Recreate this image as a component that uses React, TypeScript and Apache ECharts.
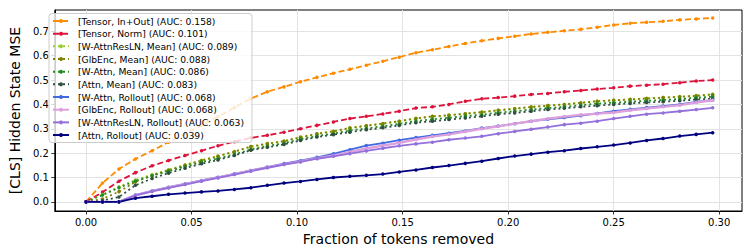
import React, { useEffect, useRef } from "react";
import * as echarts from "echarts";

const fractions = [
  0, 0.0078, 0.0156, 0.0234, 0.0313, 0.0391, 0.0469, 0.0547, 0.0625, 0.0703,
  0.0781, 0.0859, 0.0938, 0.1016, 0.1094, 0.1172, 0.125, 0.1328, 0.1406, 0.1484,
  0.1563, 0.1641, 0.1719, 0.1797, 0.1875, 0.1953, 0.2031, 0.2109, 0.2188, 0.2266,
  0.2344, 0.2422, 0.25, 0.2578, 0.2656, 0.2734, 0.2813, 0.2891, 0.2969,
];

const tensorInOut = [
  0, 0.077, 0.135, 0.176, 0.21, 0.245, 0.28, 0.315, 0.35, 0.387, 0.424, 0.452,
  0.472, 0.493, 0.511, 0.528, 0.544, 0.561, 0.577, 0.594, 0.612, 0.624, 0.638,
  0.65, 0.661, 0.671, 0.68, 0.689, 0.696, 0.702, 0.708, 0.717, 0.726, 0.733,
  0.737, 0.741, 0.747, 0.751, 0.755,
];
const tensorNorm = [
  0, 0.04, 0.085, 0.12, 0.148, 0.17, 0.19, 0.21, 0.23, 0.247, 0.263, 0.273,
  0.286, 0.3, 0.314, 0.328, 0.342, 0.351, 0.361, 0.372, 0.385, 0.39, 0.4,
  0.413, 0.423, 0.428, 0.434, 0.441, 0.445, 0.452, 0.457, 0.463, 0.468, 0.475,
  0.479, 0.483, 0.489, 0.496, 0.5,
];
const wAttnResLNMean = [
  0, 0.03, 0.062, 0.09, 0.112, 0.132, 0.152, 0.171, 0.188, 0.207, 0.226, 0.238,
  0.25, 0.266, 0.28, 0.29, 0.304, 0.313, 0.322, 0.331, 0.343, 0.35, 0.356,
  0.362, 0.369, 0.376, 0.383, 0.39, 0.395, 0.4, 0.407, 0.413, 0.417, 0.421,
  0.425, 0.428, 0.432, 0.436, 0.442,
];
const glbEncMean = [
  0, 0.012, 0.042, 0.082, 0.108, 0.13, 0.15, 0.169, 0.187, 0.206, 0.227, 0.239,
  0.249, 0.265, 0.279, 0.289, 0.303, 0.312, 0.321, 0.331, 0.342, 0.351, 0.355,
  0.362, 0.368, 0.376, 0.382, 0.389, 0.395, 0.4, 0.406, 0.413, 0.417, 0.42,
  0.424, 0.428, 0.431, 0.435, 0.441,
];
const wAttnMean = [
  0, 0.028, 0.058, 0.086, 0.107, 0.126, 0.145, 0.163, 0.178, 0.195, 0.215,
  0.229, 0.241, 0.257, 0.27, 0.28, 0.293, 0.302, 0.31, 0.32, 0.332, 0.339,
  0.345, 0.352, 0.358, 0.366, 0.372, 0.379, 0.385, 0.39, 0.397, 0.403, 0.407,
  0.411, 0.415, 0.418, 0.422, 0.427, 0.432,
];
const attnMean = [
  0, 0.005, 0.02, 0.068, 0.096, 0.118, 0.138, 0.156, 0.172, 0.19, 0.212, 0.224,
  0.236, 0.252, 0.266, 0.276, 0.286, 0.296, 0.304, 0.314, 0.325, 0.331, 0.338,
  0.344, 0.351, 0.36, 0.365, 0.372, 0.379, 0.384, 0.39, 0.395, 0.4, 0.404,
  0.408, 0.411, 0.415, 0.42, 0.424,
];
const wAttnRollout = [
  0, 0, 0, 0.028, 0.045, 0.06, 0.074, 0.088, 0.101, 0.115, 0.129, 0.143, 0.157,
  0.169, 0.183, 0.197, 0.214, 0.231, 0.241, 0.253, 0.264, 0.273, 0.282, 0.291,
  0.303, 0.311, 0.321, 0.331, 0.339, 0.346, 0.354, 0.363, 0.372, 0.38, 0.387,
  0.393, 0.4, 0.41, 0.418,
];
const glbEncRollout = [
  0, 0, 0, 0.027, 0.044, 0.059, 0.073, 0.087, 0.1, 0.114, 0.128, 0.141, 0.154,
  0.166, 0.179, 0.19, 0.205, 0.219, 0.231, 0.242, 0.256, 0.268, 0.277, 0.289,
  0.3, 0.31, 0.321, 0.331, 0.341, 0.35, 0.357, 0.362, 0.367, 0.376, 0.383,
  0.39, 0.397, 0.408, 0.417,
];
const wAttnResLNRollout = [
  0, 0, 0, 0.027, 0.043, 0.057, 0.071, 0.085, 0.098, 0.112, 0.126, 0.14, 0.153,
  0.164, 0.177, 0.187, 0.198, 0.209, 0.22, 0.23, 0.238, 0.245, 0.255, 0.262,
  0.269, 0.28, 0.289, 0.298, 0.307, 0.317, 0.323, 0.331, 0.342, 0.351, 0.36,
  0.365, 0.372, 0.379, 0.386,
];
const attnRollout = [
  0, 0, 0, 0.015, 0.023, 0.031, 0.036, 0.041, 0.045, 0.051, 0.058, 0.068,
  0.077, 0.084, 0.092, 0.1, 0.105, 0.109, 0.114, 0.123, 0.131, 0.141, 0.149,
  0.158, 0.167, 0.178, 0.188, 0.196, 0.204, 0.21, 0.219, 0.226, 0.233, 0.242,
  0.252, 0.26, 0.27, 0.277, 0.284,
];

const seriesNames = [
  "[Tensor, In+Out] (AUC: 0.158)",
  "[Tensor, Norm] (AUC: 0.101)",
  "[W-AttnResLN, Mean] (AUC: 0.089)",
  "[GlbEnc, Mean] (AUC: 0.088)",
  "[W-Attn, Mean] (AUC: 0.086)",
  "[Attn, Mean] (AUC: 0.083)",
  "[W-Attn, Rollout] (AUC: 0.068)",
  "[GlbEnc, Rollout] (AUC: 0.068)",
  "[W-AttnResLN, Rollout] (AUC: 0.063)",
  "[Attn, Rollout] (AUC: 0.039)",
];
const seriesValues = [
  tensorInOut, tensorNorm, wAttnResLNMean, glbEncMean, wAttnMean, attnMean,
  wAttnRollout, glbEncRollout, wAttnResLNRollout, attnRollout,
];
const seriesColors = [
  "#ff8c00", "#dc143c", "#9acd32", "#808000", "#228b22", "#2f4f3f",
  "#4169e1", "#dda0dd", "#9370db", "#000080",
];
const seriesDash: (number[] | "solid")[] = [
  [6, 3], [6, 3], [2, 3], [2, 3], [2, 3], [2, 3],
  "solid", "solid", "solid", "solid",
];

const xTicks = [0, 0.05, 0.1, 0.15, 0.2, 0.25, 0.3];
const yTicks = [0, 0.1, 0.2, 0.3, 0.4, 0.5, 0.6, 0.7];

const FONT = "DejaVu Sans";

export default function App() {
  const ref = useRef<HTMLDivElement>(null);
  useEffect(() => {
    document.body.style.margin = "0";
    if (!ref.current) return;
    const chart = echarts.init(ref.current, undefined, { renderer: "svg" });
    chart.setOption({
      animation: false,
      textStyle: { fontFamily: FONT },
      grid: {
        left: 45,
        right: 11,
        top: 10,
        bottom: 40,
        show: true,
        borderColor: "#000",
        borderWidth: 1,
        backgroundColor: "transparent",
      },
      legend: {
        orient: "vertical",
        left: 49,
        top: 13.5,
        itemWidth: 16,
        itemHeight: 5,
        itemGap: 2.67,
        padding: [2.5, 8, 2.5, 3],
        backgroundColor: "rgba(255,255,255,0.8)",
        borderColor: "#cccccc",
        borderWidth: 1,
        borderRadius: 3,
        textStyle: {
          fontFamily: FONT,
          fontSize: 9.2,
          color: "#000",
          lineHeight: 10,
          padding: [0, 0, 0, 4],
        },
        data: seriesNames,
      },
      xAxis: {
        type: "value",
        min: -0.0148,
        max: 0.3108,
        name: "Fraction of tokens removed",
        nameLocation: "middle",
        nameGap: 16,
        nameTextStyle: { fontFamily: FONT, fontSize: 14, color: "#000" },
        axisLine: { show: true, onZero: false, lineStyle: { color: "#000", width: 1 } },
        axisTick: {
          show: true,
          length: 3.5,
          lineStyle: { color: "#000", width: 0.8 },
          customValues: xTicks,
        },
        axisLabel: {
          fontFamily: FONT,
          fontSize: 10,
          color: "#000",
          margin: 6,
          customValues: xTicks,
          formatter: (v: number) => v.toFixed(2),
        },
        splitLine: { show: true, lineStyle: { color: "#e3e3e3", width: 1 } },
      },
      yAxis: {
        type: "value",
        min: -0.0375,
        max: 0.7875,
        name: "[CLS] Hidden State MSE",
        nameLocation: "middle",
        nameGap: 22,
        nameTextStyle: { fontFamily: FONT, fontSize: 14, color: "#000" },
        axisLine: { show: true, onZero: false, lineStyle: { color: "#000", width: 1 } },
        axisTick: {
          show: true,
          length: 3.5,
          lineStyle: { color: "#000", width: 0.8 },
          customValues: yTicks,
        },
        axisLabel: {
          fontFamily: FONT,
          fontSize: 10,
          color: "#000",
          margin: 6,
          customValues: yTicks,
          formatter: (v: number) => v.toFixed(1),
        },
        splitLine: { show: true, lineStyle: { color: "#e3e3e3", width: 1 } },
      },
      series: seriesNames.map((name, k) => ({
        name,
        type: "line",
        data: fractions.map((x, i) => [x, seriesValues[k][i]]),
        symbol: "circle",
        symbolSize: 3.5,
        showSymbol: true,
        itemStyle: { color: seriesColors[k] },
        lineStyle: {
          color: seriesColors[k],
          width: k === 7 ? 2.4 : 1.8,
          type: seriesDash[k],
          cap: "butt",
        },
        emphasis: { disabled: true },
      })),
    });
    return () => chart.dispose();
  }, []);
  return <div ref={ref} style={{ width: 753, height: 251 }} />;
}
